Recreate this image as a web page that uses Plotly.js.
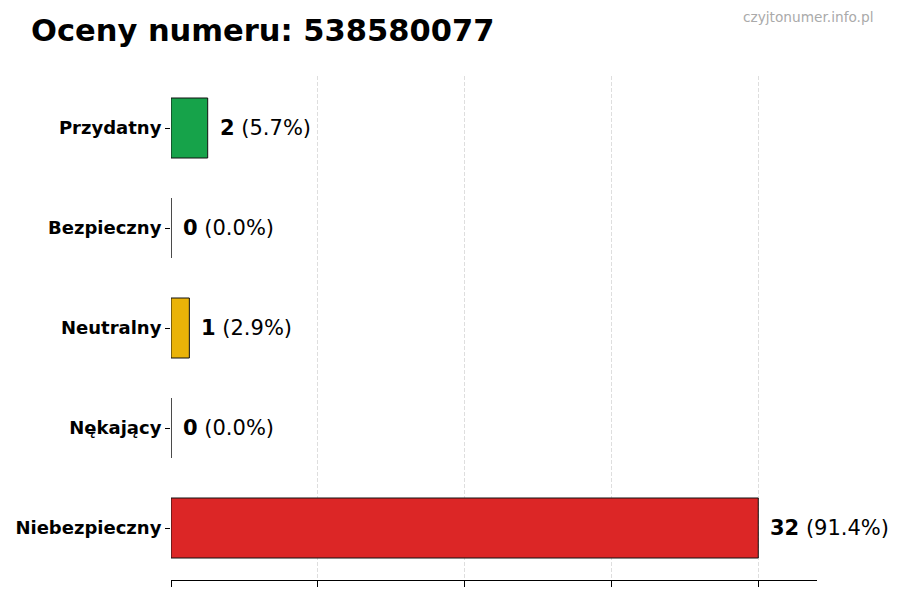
<!DOCTYPE html>
<html>
<head>
<meta charset="utf-8">
<script src="https://cdn.plot.ly/plotly-3.0.1.min.js"></script>
<style>html,body{margin:0;padding:0;background:#fff;}#chart{width:900px;height:600px;}</style>
</head>
<body>
<div id="chart"></div>
<script>
const categories = ["Przydatny", "Bezpieczny", "Neutralny", "Nękający", "Niebezpieczny"];
const counts = [2, 0, 1, 0, 32];
const colors = ["#16a34a", "#9ca3af", "#eab308", "#f97316", "#dc2626"];
const xTicks = [0, 8, 16, 24, 32];
const titleText = "Oceny numeru: 538580077";
const watermark = "czyjtonumer.info.pl";

const total = counts.reduce((a, b) => a + b, 0);

const trace = {
  type: "bar",
  orientation: "h",
  x: counts,
  y: categories,
  width: 0.6,
  marker: { color: colors, line: { color: "#111", width: 1 } },
  hoverinfo: "none"
};

const annotations = categories.map((c, i) => ({
  x: counts[i], y: c, xref: "x", yref: "y",
  text: "<b>" + counts[i] + "</b> (" + (counts[i] / total * 100).toFixed(1) + "%)",
  showarrow: false, xanchor: "left", yanchor: "middle", xshift: 10,
  font: { family: "DejaVu Sans", size: 21, color: "#000" }
}));
annotations.push({
  text: watermark, xref: "paper", yref: "paper",
  x: (875 - 171) / 646, y: 1 + (76 - 17) / 504,
  xanchor: "right", yanchor: "middle", showarrow: false,
  font: { family: "DejaVu Sans", size: 13.7, color: "#aaa" }
});

const layout = {
  width: 900, height: 600,
  margin: { l: 171, r: 83, t: 76, b: 20 },
  paper_bgcolor: "#fff", plot_bgcolor: "#fff",
  showlegend: false,
  title: {
    text: "<b>" + titleText + "</b>",
    x: 31/900, xanchor: "left", xref: "container",
    y: 1 - 30/600, yanchor: "middle", yref: "container",
    font: { family: "DejaVu Sans", size: 30.5, color: "#000" }
  },
  xaxis: {
    range: [0, 35.2],
    tickvals: xTicks,
    showticklabels: false,
    ticks: "outside", ticklen: 6, tickcolor: "#000", tickwidth: 1,
    showgrid: true, gridcolor: "#dedede", griddash: "4px,2px", gridwidth: 1,
    zeroline: false,
    showline: true, linecolor: "#000", linewidth: 1.2,
    fixedrange: true
  },
  yaxis: {
    type: "category",
    categoryorder: "array", categoryarray: categories,
    range: [4.52, -0.52],
    ticks: "outside", ticklen: 5, tickcolor: "#000", tickwidth: 1,
    showgrid: false, zeroline: false, showline: false,
    tickfont: { family: "DejaVu Sans", size: 18, color: "#000", weight: "bold" },
    fixedrange: true
  },
  annotations: annotations
};

Plotly.newPlot("chart", [trace], layout, { displayModeBar: false, staticPlot: true });
</script>
</body>
</html>
